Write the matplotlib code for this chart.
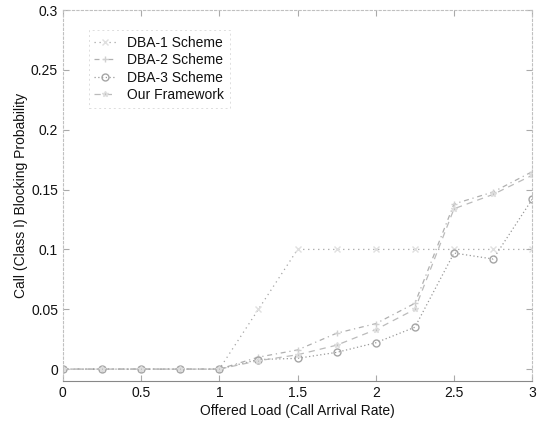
import matplotlib
matplotlib.use("Agg")
import matplotlib.pyplot as plt

plt.rcParams['font.family'] = ['Liberation Sans', 'DejaVu Sans']

x = [0, 0.25, 0.5, 0.75, 1.0, 1.25, 1.5, 1.75, 2.0, 2.25, 2.5, 2.75, 3.0]
dba1 = [0, 0, 0, 0, 0, 0.05, 0.10, 0.10, 0.10, 0.10, 0.10, 0.10, 0.10]
dba2 = [0, 0, 0, 0, 0, 0.010, 0.016, 0.030, 0.038, 0.055, 0.138, 0.148, 0.165]
dba3 = [0, 0, 0, 0, 0, 0.008, 0.009, 0.014, 0.022, 0.035, 0.097, 0.092, 0.142]
ours = [0, 0, 0, 0, 0, 0.007, 0.012, 0.020, 0.033, 0.050, 0.134, 0.146, 0.162]
labels = ['DBA-1 Scheme', 'DBA-2 Scheme', 'DBA-3 Scheme', 'Our Framework']
xticks = [0, 0.5, 1, 1.5, 2, 2.5, 3]
xticklabels = ['0', '0.5', '1', '1.5', '2', '2.5', '3']
yticks = [0, 0.05, 0.1, 0.15, 0.2, 0.25, 0.3]
yticklabels = ['0', '0.05', '0.1', '0.15', '0.2', '0.25', '0.3']

fig = plt.figure(figsize=(5.42, 4.22), dpi=100)
ax = fig.add_axes([0.116, 0.097, 0.866, 0.879])

ax.plot(x, dba1, linestyle=(0, (1, 3)), color='#a5a5a5', lw=0.9,
        marker='x', ms=4, mec='#e0e0e0', label=labels[0])
ax.plot(x, dba2, linestyle=(0, (4, 3, 1, 3)), color='#b0b0b0', lw=0.9,
        marker='+', ms=5, mec='#d0d0d0', label=labels[1])
ax.plot(x, dba3, linestyle=(0, (1, 2)), color='#999999', lw=0.9,
        marker='o', ms=5, mfc='none', mec='#a5a5a5', label=labels[2])
ax.plot(x, ours, linestyle=(0, (5, 4)), color='#bbbbbb', lw=0.9,
        marker='*', ms=4, mec='#dddddd', label=labels[3])

ax.set_xlim(0, 3)
ax.set_ylim(-0.01, 0.3)
ax.set_xticks(xticks)
ax.set_xticklabels(xticklabels)
ax.set_yticks(yticks)
ax.set_yticklabels(yticklabels)
ax.tick_params(direction='in', length=4, color='#aaaaaa', labelsize=10,
               labelcolor='#111111', top=True, right=True)
for s in ax.spines.values():
    s.set_color('#c0c0c0')
    s.set_linewidth(0.8)
    s.set_linestyle((0, (2, 2)))
ax.spines['bottom'].set_linestyle('-')
ax.spines['bottom'].set_color('#888888')

ax.set_xlabel('Offered Load (Call Arrival Rate)', fontsize=10, color='#111111', labelpad=3)
ax.set_ylabel('Call (Class I) Blocking Probability', fontsize=10, color='#111111', labelpad=2)

leg = ax.legend(loc='upper left', bbox_to_anchor=(0.04, 0.965), fontsize=10,
                frameon=True, fancybox=False, handlelength=1.6,
                borderpad=0.4, labelspacing=0.25)
leg.get_frame().set_edgecolor('#d5d5d5')
leg.get_frame().set_linestyle((0, (2, 3)))
leg.get_frame().set_linewidth(0.7)
for t in leg.get_texts():
    t.set_color('#111111')

fig.savefig('out.png', dpi=100)
